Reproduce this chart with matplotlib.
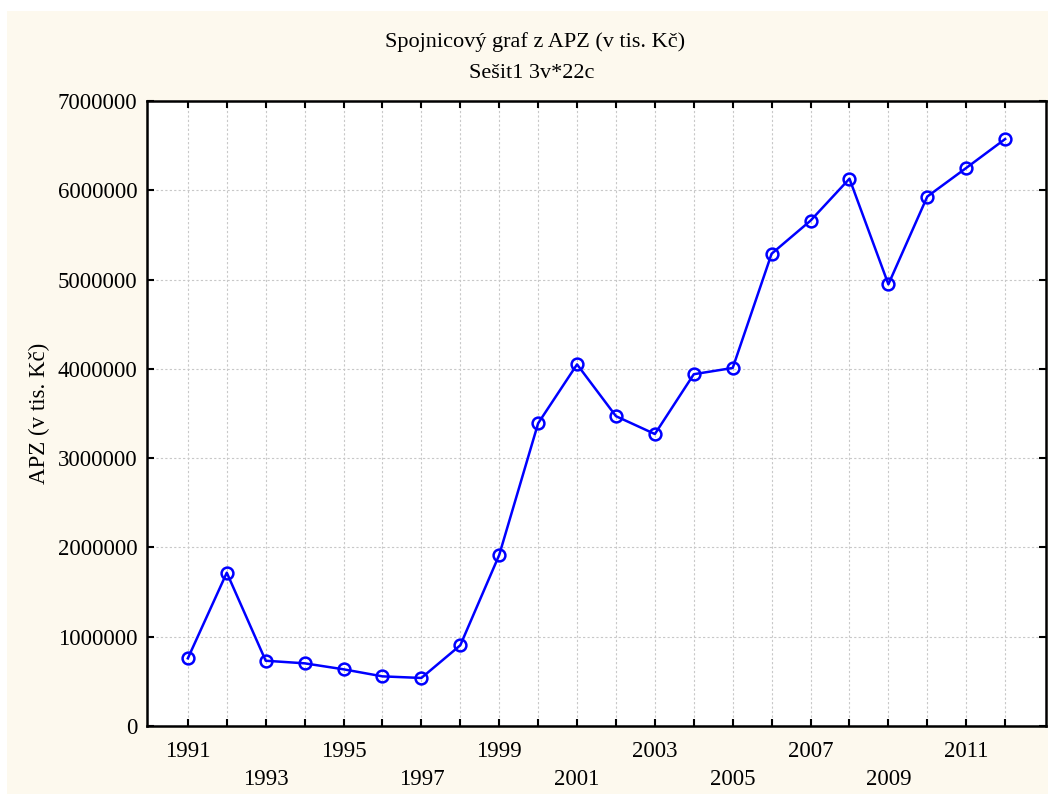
import matplotlib
matplotlib.use("Agg")
import matplotlib.pyplot as plt
from matplotlib.patches import Rectangle

# Data
years = list(range(1991, 2013))
apz = [758000, 1717000, 731000, 702000, 635000, 556000, 538000, 904000,
       1915000, 3390000, 4050000, 3470000, 3270000, 3940000, 4010000,
       5290000, 5660000, 6130000, 4947000, 5930000, 6250000, 6574000]
y_ticks = [0, 1000000, 2000000, 3000000, 4000000, 5000000, 6000000, 7000000]

title = "Spojnicový graf z APZ (v tis. Kč)"
subtitle = "Sešit1 3v*22c"
y_label = "APZ (v tis. Kč)"

plt.rcParams["font.family"] = ["Liberation Serif", "DejaVu Serif"]
fs = 16.5

fig = plt.figure(figsize=(10.48, 7.94), dpi=100, facecolor="white")
# cream background panel with small white margin top/left
fig.patches.append(Rectangle((7 / 1048, 0), 1 - 7 / 1048, 1 - 11 / 794,
                             transform=fig.transFigure, facecolor="#fdf9ee",
                             edgecolor="none", zorder=-10))

ax = fig.add_axes([147 / 1048, 1 - 726 / 794, (1046 - 147) / 1048, (726 - 101) / 794])
ax.set_facecolor("white")

ax.plot(years, apz, color="#0000ff", lw=1.8, marker="o", markersize=8.5,
        markerfacecolor="none", markeredgecolor="#0000ff", markeredgewidth=1.8,
        zorder=3)

ax.set_xlim(1989.95, 2013.05)
ax.set_ylim(0, 7000000)

# year ticks, odd years labelled on two alternating rows
ax.set_xticks(years)
xlabels = []
for yr in years:
    if yr % 2 == 0:
        xlabels.append("")
    elif (yr - 1991) % 4 == 0:
        xlabels.append(str(yr))
    else:
        xlabels.append("\n" + str(yr))
ax.set_xticklabels(xlabels, fontsize=fs, linespacing=1.45)
ax.set_yticks(y_ticks)
ax.set_yticklabels([str(v) for v in y_ticks], fontsize=fs)

ax.tick_params(axis="both", direction="in", length=5, width=1.5,
               top=True, right=True, pad=7)
ax.tick_params(axis="x", pad=11)

for s in ax.spines.values():
    s.set_linewidth(1.8)

ax.grid(True, color="#c8c8c8", linestyle=(0, (2, 2)), linewidth=0.8, zorder=0)
ax.set_axisbelow(True)

ax.set_ylabel(y_label, fontsize=fs)
ax.yaxis.set_label_coords(-0.108, 0.5)

fig.text(535 / 1048, 1 - 42 / 794, title, ha="center", va="center", fontsize=16)
fig.text(532 / 1048, 1 - 74 / 794, subtitle, ha="center", va="center", fontsize=16)

fig.savefig("out.png", dpi=100, facecolor=fig.get_facecolor())
plt.close(fig)
